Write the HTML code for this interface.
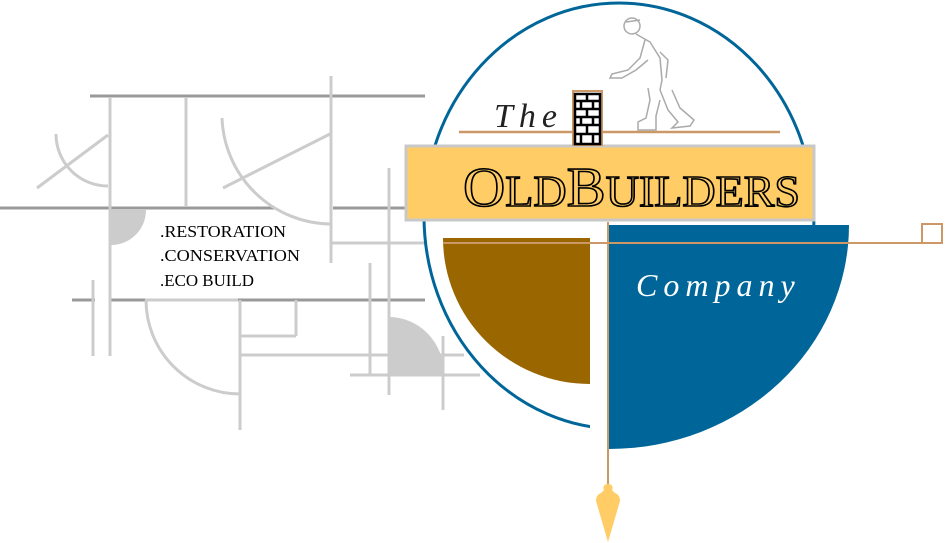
<!DOCTYPE html>
<html><head><meta charset="utf-8"><style>
html,body{margin:0;padding:0;background:#fff;width:945px;height:543px;overflow:hidden}
svg{position:absolute;left:0;top:0}
</style></head><body>
<svg width="945" height="543" viewBox="0 0 945 543" xmlns="http://www.w3.org/2000/svg">
<g stroke="#999" stroke-width="3" fill="none">
<line x1="90" y1="96" x2="425" y2="96"/>
<line x1="0" y1="208" x2="275" y2="208"/>
<line x1="333" y1="208" x2="405" y2="208"/>
<line x1="72" y1="300" x2="95" y2="300"/>
<line x1="110" y1="300" x2="145" y2="300"/>
<line x1="238" y1="300" x2="425" y2="300"/>
</g>
<g stroke="#ccc" stroke-width="3" fill="none">
<line x1="110" y1="97" x2="110" y2="356"/>
<line x1="186" y1="97" x2="186" y2="207"/>
<line x1="331" y1="76" x2="331" y2="263"/>
<line x1="93" y1="280" x2="93" y2="356"/>
<line x1="145" y1="300" x2="238" y2="300"/>
<path d="M56 134 A52 52 0 0 0 108 186"/>
<line x1="37" y1="188" x2="108" y2="135"/>
<path d="M222 118 A110 110 0 0 0 330 224"/>
<line x1="223" y1="188" x2="330" y2="134"/>
<line x1="332" y1="243" x2="425" y2="243"/>
<line x1="389" y1="168" x2="389" y2="395"/>
<line x1="370" y1="263" x2="370" y2="375"/>
<path d="M146 300 A94 94 0 0 0 240 394"/>
<line x1="240" y1="300" x2="240" y2="430"/>
<line x1="240" y1="336" x2="296" y2="336"/>
<line x1="296" y1="300" x2="296" y2="336"/>
<line x1="240" y1="355" x2="464" y2="355"/>
<line x1="350" y1="375" x2="480" y2="375"/>
<line x1="443" y1="336" x2="443" y2="410"/>
</g>
<path d="M111 210 L146 210 A35 35 0 0 1 111 245 Z" fill="#ccc"/>
<path d="M389 317 A55 57 0 0 1 444 374 L389 374 Z" fill="#ccc"/>
<text font-family="Liberation Serif, serif" font-size="17" fill="#000">
<tspan x="160" y="237" textLength="126" lengthAdjust="spacingAndGlyphs">.RESTORATION</tspan>
<tspan x="160" y="261" textLength="140" lengthAdjust="spacingAndGlyphs">.CONSERVATION</tspan>
<tspan x="160" y="286" textLength="94" lengthAdjust="spacingAndGlyphs">.ECO BUILD</tspan>
</text>
<ellipse cx="619" cy="216" rx="195" ry="213" fill="none" stroke="#006699" stroke-width="3"/>
<rect x="590" y="416" width="18" height="20" fill="#fff"/>
<path d="M609 225 L849 225 A240 224 0 0 1 609 449 Z" fill="#006699"/>
<path d="M443 238 L590 238 L590 384 A147 146 0 0 1 443 238 Z" fill="#996600"/>
<line x1="443" y1="243" x2="922" y2="243" stroke="#cc9966" stroke-width="2"/>
<rect x="922" y="224" width="20" height="19" fill="none" stroke="#cc9966" stroke-width="2"/>
<line x1="608" y1="222" x2="608" y2="490" stroke="#cc9966" stroke-width="2"/>
<path d="M608 484 a4 4 0 0 1 4 6 l3 3 q5 2 5 8 L608 542 L596 501 q0 -6 5 -8 l3 -3 a4 4 0 0 1 4 -6 Z" fill="#ffcc66"/>
<line x1="459" y1="132" x2="780" y2="132" stroke="#cc9966" stroke-width="2.5"/>
<rect x="406" y="146" width="408" height="74" fill="#ffcc66" stroke="#c8c8c8" stroke-width="3"/>
<text x="463" y="206" font-family="Liberation Serif, serif" font-size="56" fill="#ffcc66" stroke="#000" stroke-width="1.6" textLength="337" lengthAdjust="spacingAndGlyphs">O<tspan font-size="44">LD</tspan>B<tspan font-size="44">UILDERS</tspan></text>
<rect x="573" y="91" width="29" height="54" fill="#fff" stroke="#cc9966" stroke-width="2"/>
<g stroke="#000" stroke-width="2.5" fill="none">
<rect x="575" y="94" width="25" height="50"/>
<line x1="575" y1="101" x2="600" y2="101"/><line x1="575" y1="109" x2="600" y2="109"/>
<line x1="575" y1="117" x2="600" y2="117"/><line x1="575" y1="125" x2="600" y2="125"/>
<line x1="575" y1="134" x2="600" y2="134"/>
<line x1="587" y1="94" x2="587" y2="101"/><line x1="581" y1="101" x2="581" y2="109"/><line x1="593" y1="101" x2="593" y2="109"/>
<line x1="587" y1="109" x2="587" y2="117"/><line x1="581" y1="117" x2="581" y2="125"/><line x1="593" y1="117" x2="593" y2="125"/>
<line x1="587" y1="125" x2="587" y2="134"/><line x1="581" y1="134" x2="581" y2="144"/><line x1="593" y1="134" x2="593" y2="144"/>
</g>
<text x="494" y="127" font-family="Liberation Serif, serif" font-style="italic" font-size="34" fill="#222" letter-spacing="6">The</text>
<g stroke="#aaa" stroke-width="1.5" fill="none">
<circle cx="632" cy="26" r="8"/>
<path d="M626 22 L640 20"/>
<path d="M636 34 L650 42 L660 58 L662 80 L660 90"/>
<path d="M645 40 L640 58 L628 70 L612 74 L610 78 L622 78 L636 70 L648 60"/>
<path d="M660 52 L668 60 L666 78"/>
<path d="M660 90 L668 110 L678 122 L672 128 L690 126 L694 120 L680 108 L672 90"/>
<path d="M648 88 L650 100 L646 118 L638 122 L638 130 L656 130 L656 116 L660 100"/>
</g>
<text x="636" y="296" font-family="Liberation Serif, serif" font-style="italic" font-size="32" fill="#fff" letter-spacing="6">Company</text>
</svg>
</body></html>
